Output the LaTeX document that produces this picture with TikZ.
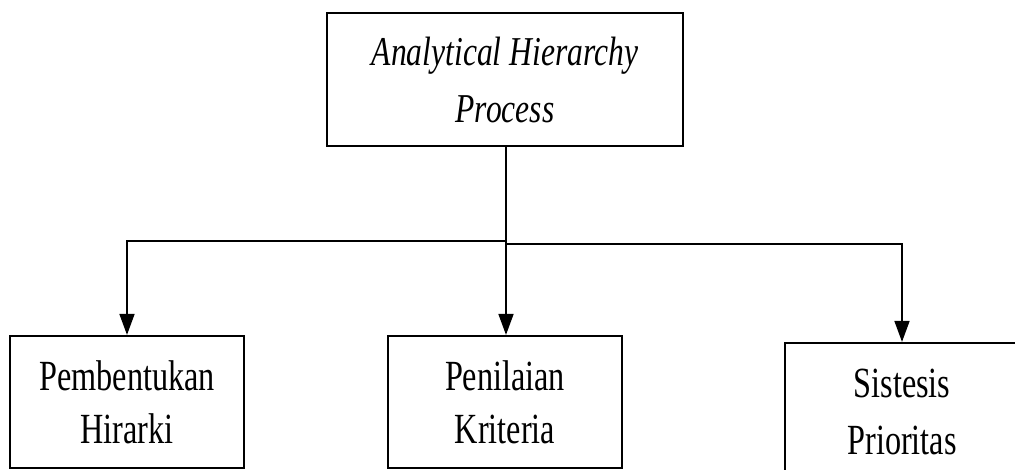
\documentclass[tikz,border=0pt]{standalone}
\usepackage{fontspec}
\setmainfont{Liberation Serif}
% condensed serif used for all labels
\newfontfamily\narrowserif[FakeStretch=0.75]{Liberation Serif}
\newfontfamily\narrowitalic[FakeStretch=0.77]{Liberation Serif Italic}
\usetikzlibrary{arrows.meta}
\begin{document}
\begin{tikzpicture}[x=1pt,y=-1pt,
  box/.style={draw=black, line width=2.2pt, rectangle, inner sep=0pt,
              align=center, text=black},
  toplabel/.style={font=\narrowitalic\fontsize{41}{57}\selectfont},
  sublabel/.style={font=\narrowserif\fontsize{43}{53}\selectfont},
  link/.style={draw=black, line width=1.7pt},
  tip/.style={-{Triangle[length=21pt,width=15pt]}}
]
\useasboundingbox (0,0) rectangle (1015,469);
\fill[white] (0,0) rectangle (1015,469);
\clip (0,0) rectangle (1015,469);

% root of the hierarchy
\node[box, toplabel, minimum width=356pt, minimum height=133pt]
  (ahp) at (505,79.5) {Analytical Hierarchy\\Process};

% the three stages
\node[box, sublabel, minimum width=234pt, minimum height=132pt]
  (hir) at (127,402) {Pembentukan\\Hirarki};
\node[box, sublabel, minimum width=234pt, minimum height=132pt]
  (kri) at (505,402) {Penilaian\\Kriteria};
\node[box, sublabel, font=\narrowserif\fontsize{43}{57}\selectfont,
      minimum width=234pt, minimum height=138pt]
  (pri) at (902,412) {Sistesis\\Prioritas};

% branching points
\coordinate (jl) at (506,241);
\coordinate (jr) at (506,244);

% connectors
\draw[link] (ahp.south -| jr) -- (jr);
\draw[link, tip] (jl) -| (hir.north);
\draw[link, tip] (jl) -- (jl |- kri.north);
\draw[link, tip] (jr) -| (pri.north);
\end{tikzpicture}
\end{document}
